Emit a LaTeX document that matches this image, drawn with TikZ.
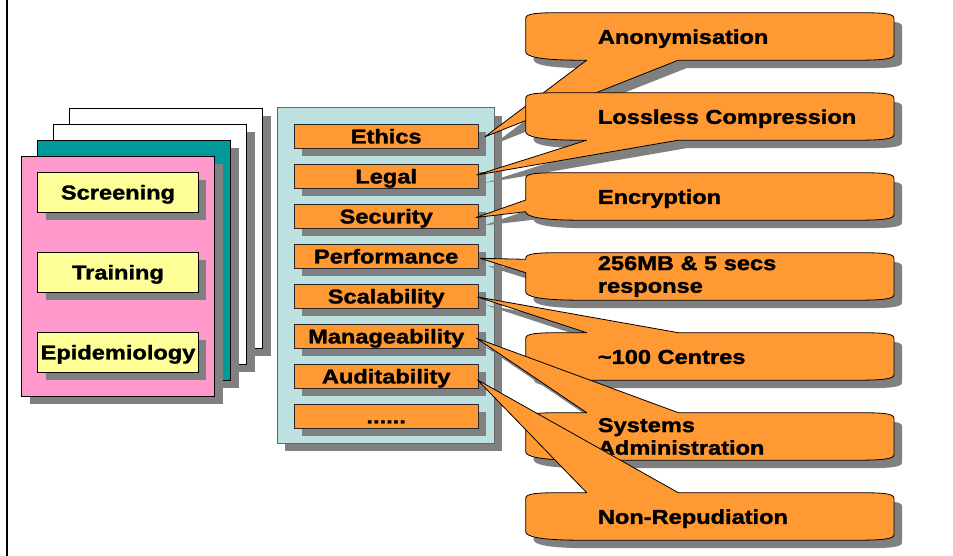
\documentclass[tikz,border=0pt]{standalone}
\usepackage{fontspec}
\setmainfont{Liberation Sans}[FakeStretch=1.18]
\usetikzlibrary{calc,shadows}
\definecolor{orng}{HTML}{FF9933}
\definecolor{pinkc}{HTML}{FF99CC}
\definecolor{tealc}{HTML}{009999}
\definecolor{yel}{HTML}{FFFF99}
\definecolor{panelc}{HTML}{BDE1E1}
\definecolor{shadc}{HTML}{808080}
\def\cL{525.7}
\def\cR{894}
% callout with pointer leaving the top edge
\newcommand\pathT[2]{({\cL},{#1+5.5}) .. controls ({\cL},{#1+1}) and ({\cL+10},{#1}) .. ({\cL+35},{#1}) -- ({\cL+61},{#1}) -- (#2) -- ({\cL+152.6},{#1}) -- ({\cR-35},{#1}) .. controls ({\cR-10},{#1}) and ({\cR},{#1+1}) .. ({\cR},{#1+5.5}) -- ({\cR},{#1+42}) .. controls ({\cR},{#1+46}) and ({\cR-10},{#1+47.5}) .. ({\cR-35},{#1+47.5}) -- ({\cL+55},{#1+47.5}) .. controls ({\cL+15},{#1+47.5}) and ({\cL},{#1+44}) .. ({\cL},{#1+39}) -- cycle}
% callout with pointer leaving the bottom edge
\newcommand\pathB[2]{({\cL},{#1+5.5}) .. controls ({\cL},{#1+1}) and ({\cL+10},{#1}) .. ({\cL+35},{#1}) -- ({\cR-35},{#1}) .. controls ({\cR-10},{#1}) and ({\cR},{#1+1}) .. ({\cR},{#1+5.5}) -- ({\cR},{#1+42}) .. controls ({\cR},{#1+46}) and ({\cR-10},{#1+47.5}) .. ({\cR-35},{#1+47.5}) -- ({\cL+152.6},{#1+47.5}) -- (#2) -- ({\cL+61},{#1+47.5}) -- ({\cL+55},{#1+47.5}) .. controls ({\cL+15},{#1+47.5}) and ({\cL},{#1+44}) .. ({\cL},{#1+39}) -- cycle}
% callout with pointer leaving the left side
\newcommand\pathL[4]{({\cL},{#1+5.5}) .. controls ({\cL},{#1+1}) and ({\cL+10},{#1}) .. ({\cL+35},{#1}) -- ({\cR-35},{#1}) .. controls ({\cR-10},{#1}) and ({\cR},{#1+1}) .. ({\cR},{#1+5.5}) -- ({\cR},{#1+42}) .. controls ({\cR},{#1+46}) and ({\cR-10},{#1+47.5}) .. ({\cR-35},{#1+47.5}) -- ({\cL+55},{#1+47.5}) .. controls ({\cL+15},{#1+47.5}) and ({\cL},{#1+44}) .. ({\cL},{#1+39}) -- ({\cL},{#1+#4}) -- (#2) -- ({\cL},{#1+#3}) -- cycle}
\tikzset{
  lab/.style={font=\fontsize{20}{22.7}\selectfont\bfseries\addfontfeature{FakeBold=1.5}},
  one/.style={text height=16,text depth=1.7},
  shad/.style={drop shadow={shadow xshift=8pt,shadow yshift=-8pt,opacity=1,fill=shadc}},
  page/.style={shad,draw=black,line width=0.8,minimum width=193,minimum height=240,inner sep=0,outer sep=0},
  ybox/.style={lab,one,shad,fill=yel,draw=black,line width=0.8,minimum width=160.6,minimum height=40,inner sep=0,outer sep=0},
  panel/.style={shad,fill=panelc,draw=black!60,line width=0.8,minimum width=216.7,minimum height=335.6,inner sep=0,outer sep=0},
  obox/.style={lab,one,shad,fill=orng,draw=black!85,line width=0.8,minimum width=184.3,minimum height=24,inner sep=0,outer sep=0},
  cshadow/.style={fill=shadc,transform canvas={shift={(8,8)}}},
  cbody/.style={fill=orng,draw=black,line width=0.8,line join=round},
  ctext/.style={lab,anchor=west,align=left,inner sep=0}
}
\begin{document}
\begin{tikzpicture}[x=1pt,y=-1pt]
\useasboundingbox[fill=white] (0,0) rectangle (953,556);
\draw[line width=2] (7,0) -- (7,556);
% stacked pages
\node[page,fill=white] (pg1) at (166,228) {};
\node[page,fill=white] (pg2) at (150,244) {};
\node[page,fill=tealc] (pg3) at (134,260) {};
\node[page,fill=pinkc] (pg4) at (118,276) {};
\node[ybox] (scr) at (118,192.3) {Screening};
\node[ybox] (trn) at (118,272.3) {Training};
\node[ybox] (epi) at (118,352.3) {Epidemiology};
% requirement panel
\node[panel] (pan) at (385.65,275.5) {};
\node[obox] (eth) at (386.2,136.3) {Ethics};
\node[obox] (leg) at (386.2,176.3) {Legal};
\node[obox] (sec) at (386.2,216.3) {Security};
\node[obox] (per) at (386.2,256.3) {Performance};
\node[obox] (sca) at (386.2,296.3) {Scalability};
\node[obox] (man) at (386.2,336.3) {Manageability};
\node[obox] (aud) at (386.2,376.3) {Auditability};
\node[obox] (dots) at (386.2,416.3) {......};
% pointer tips
\coordinate (t1) at ($(eth.east)+(6.7,0.4)$);
\coordinate (t2) at ($(leg.east)+(-1.7,-1.3)$);
\coordinate (t3) at ($(sec.east)+(-2.3,1.2)$);
\coordinate (t4) at ($(per.east)+(1.7,2)$);
\coordinate (t5) at ($(sca.east)+(-0.8,0.7)$);
\coordinate (t6) at ($(man.east)+(-1.8,2)$);
\coordinate (t7) at ($(aud.east)+(-0.8,3.7)$);
% callouts
\fill[cshadow] \pathB{12.7}{t1};
\draw[cbody] \pathB{12.7}{t1};
\node[ctext,one] (c1) at (597.7,36.7) {Anonymisation};
\fill[cshadow] \pathB{92.7}{t2};
\draw[cbody] \pathB{92.7}{t2};
\node[ctext,one] (c2) at (597.7,116.7) {Lossless Compression};
\fill[cshadow] \pathL{172.7}{t3}{27.3}{39};
\draw[cbody] \pathL{172.7}{t3}{27.3}{39};
\node[ctext,one] (c3) at (597.7,196.7) {Encryption};
\fill[cshadow] \pathL{252.7}{t4}{6.6}{20};
\draw[cbody] \pathL{252.7}{t4}{6.6}{20};
\node[ctext] (c4) at (597.7,276.5) {256MB \& 5 secs\\response};
\fill[cshadow] \pathT{332.7}{t5};
\draw[cbody] \pathT{332.7}{t5};
\node[ctext,one] (c5) at (597.7,356.7) {\textasciitilde100 Centres};
\fill[cshadow] \pathT{412.7}{t6};
\draw[cbody] \pathT{412.7}{t6};
\node[ctext] (c6) at (597.7,436.5) {Systems\\Administration};
\fill[cshadow] \pathT{492.7}{t7};
\draw[cbody] \pathT{492.7}{t7};
\node[ctext,one] (c7) at (597.7,516.7) {Non-Repudiation};
\end{tikzpicture}
\end{document}
